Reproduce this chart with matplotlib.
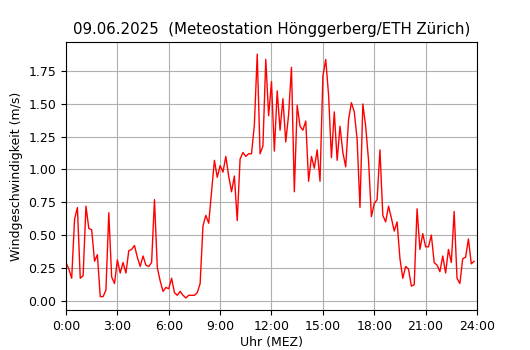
import numpy as np
import matplotlib
matplotlib.use('Agg')
import matplotlib.pyplot as plt

# Wind speed every 10 minutes (m/s)
wind = [
    0.29, 0.24, 0.17, 0.62, 0.71, 0.17, 0.19, 0.72, 0.55, 0.54,
    0.30, 0.35, 0.03, 0.03, 0.08, 0.67, 0.18, 0.13, 0.31, 0.21,
    0.29, 0.21, 0.38, 0.39, 0.42, 0.33, 0.26, 0.34, 0.27, 0.26,
    0.29, 0.77, 0.25, 0.15, 0.07, 0.10, 0.09, 0.17, 0.06, 0.04,
    0.07, 0.04, 0.02, 0.04, 0.04, 0.04, 0.06, 0.13, 0.57, 0.65,
    0.59, 0.83, 1.07, 0.94, 1.03, 0.98, 1.10, 0.95, 0.83, 0.95,
    0.61, 1.08, 1.13, 1.10, 1.12, 1.12, 1.34, 1.88, 1.12, 1.18,
    1.84, 1.41, 1.67, 1.14, 1.60, 1.30, 1.54, 1.21, 1.42, 1.78,
    0.83, 1.49, 1.33, 1.30, 1.37, 0.91, 1.10, 1.01, 1.15, 0.91,
    1.71, 1.84, 1.57, 1.09, 1.44, 1.07, 1.33, 1.13, 1.02, 1.38,
    1.51, 1.44, 1.23, 0.71, 1.50, 1.33, 1.07, 0.64, 0.74, 0.77,
    1.15, 0.65, 0.60, 0.72, 0.63, 0.53, 0.60, 0.32, 0.17, 0.26,
    0.24, 0.11, 0.12, 0.70, 0.39, 0.51, 0.41, 0.41, 0.50, 0.29,
    0.27, 0.22, 0.34, 0.21, 0.39, 0.29, 0.68, 0.17, 0.13, 0.32,
    0.33, 0.47, 0.28, 0.30,
]
hours = np.arange(len(wind)) / 6.0

tick_pos = [0, 3, 6, 9, 12, 15, 18, 21, 24]
tick_labels = ['0:00', '3:00', '6:00', '9:00', '12:00', '15:00', '18:00', '21:00', '24:00']

fig = plt.figure(figsize=(5.3, 3.5), dpi=100)
ax = fig.add_axes([0.1245, 0.114, 0.7755, 0.766])
ax.plot(hours, wind, color='red', lw=1)
ax.set_xlim(0, 24)
ax.set_xticks(tick_pos)
ax.set_xticklabels(tick_labels)
ax.tick_params(labelsize=9)
ax.grid(True, color='#b0b0b0')
ax.set_axisbelow(True)
ax.set_xlabel('Uhr (MEZ)', fontsize=9, labelpad=2.5)
ax.set_ylabel('Windgeschwindigkeit (m/s)', fontsize=9)
ax.set_title('09.06.2025  (Meteostation Hönggerberg/ETH Zürich)', fontsize=10.8)

fig.savefig('out.png', dpi=100)
